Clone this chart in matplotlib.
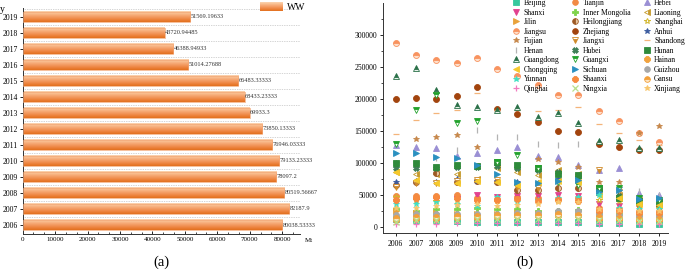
import numpy as np
import matplotlib
matplotlib.use("Agg")
import matplotlib.pyplot as plt
from matplotlib.ticker import MultipleLocator
from matplotlib.patches import Rectangle
from matplotlib.colors import to_rgb

plt.rcParams['font.family'] = ['Liberation Serif', 'DejaVu Serif']

# ---- panel (a) data ----
years = list(range(2006, 2020))
ww = [80038.53333, 82187.9, 80519.56667, 78097.2, 79133.23333, 76946.03333,
      73850.13333, 69933.3, 68433.23333, 66483.33333, 51014.27688, 46388.94933,
      43720.94485, 51569.19633]
ww_labels = ["80038.53333", "82187.9", "80519.56667", "78097.2", "79133.23333",
             "76946.03333", "73850.13333", "69933.3", "68433.23333", "66483.33333",
             "51014.27688", "46388.94933", "43720.94485", "51569.19633"]

# ---- panel (b) data (thousand) ----
provinces = ["Beijing", "Tianjin", "Hebei", "Shanxi", "Inner Mongolia", "Liaoning",
             "Jilin", "Heilongjiang", "Shanghai", "Jiangsu", "Zhejiang", "Anhui",
             "Fujian", "Jiangxi", "Shandong", "Henan", "Hubei", "Hunan",
             "Guangdong", "Guangxi", "Hainan", "Chongqing", "Sichuan", "Guizhou",
             "Yunnan", "Shaanxi", "Gansu", "Qinghai", "Ningxia", "Xinjiang"]
beijing = [12, 10, 10, 9, 8, 8, 8, 8, 8, 7, 6, 6, 5, 5]
tianjin = [48, 48, 48, 49, 45, 44, 47, 45, 44, 45, 30, 28, 25, 25]
hebei = [128, 124, 122.5, 110, 114.7, 120, 124, 111, 109, 96, 88, 91, 52, 50]
shanxi = [38, 40, 42, 43, 50, 46, 48, 48, 50, 48, 35, 32, 30, 28]
inner_mongolia = [28, 25, 28, 28, 30, 28, 28, 25, 25, 26, 22, 20, 18, 18]
liaoning = [86, 82, 83, 82, 75, 91, 86, 81, 88, 82, 57, 50, 42, 40]
jilin = [24, 22, 22, 20, 20, 20, 22, 20, 20, 20, 18, 15, 14, 14]
heilongjiang = [65, 70, 84, 70, 72, 70, 58, 57, 60, 60, 57, 45, 35, 33]
shanghai = [47, 42, 40, 42, 40, 40, 43, 42, 40, 40, 42, 40, 32, 30]
jiangsu = [287, 269, 260, 256, 264, 246, 235, 222, 205, 206, 180, 165, 147, 133]
zhejiang = [199.5, 201.6, 199.5, 204, 218, 184, 176, 164, 150, 147.5, 130, 124, 120, 120]
anhui = [70, 72, 70, 74, 72, 72, 70, 68, 75, 72, 55, 60, 44, 42]
fujian = [100, 137, 140.6, 143, 125, 100, 92, 106, 101.6, 93, 70, 70, 146, 157]
jiangxi = [62.5, 68, 68, 72, 73, 73, 62, 60, 70, 68, 88.6, 55, 40, 38]
shandong = [145, 167, 177, 182, 209, 183, 182, 181, 183, 187, 160, 146, 135, 128]
henan = [95, 100, 108, 120, 151, 140, 140, 130, 128, 130, 62, 58, 56, 50]
hubei = [92, 91, 92, 93, 94, 95, 92, 88, 85, 78, 55, 48, 38, 35]
hunan = [99, 99, 94, 96, 95, 101, 96, 91, 83, 81, 60, 45, 40, 38]
guangdong = [236, 247.5, 213.6, 190, 187.5, 182, 187.5, 172, 178, 162, 134, 135.5, 123, 123]
guangxi = [130, 183, 206, 161.5, 165.6, 101.6, 112, 91, 70, 65, 60, 60, 45, 42]
hainan = [10, 12, 12, 14, 14, 15, 16, 16, 16, 16, 12, 12, 10, 10]
chongqing = [85, 73, 69, 68, 72, 70, 65, 70, 72, 70, 50, 45, 35, 34]
sichuan = [115.6, 114.7, 109, 108, 96, 83, 70, 68, 72, 73, 55, 57, 44, 45]
guizhou = [18, 20, 20, 20, 20, 20, 22, 22, 24, 24, 20, 18, 16, 16]
yunnan = [35, 36, 38, 35, 32, 46, 38, 42, 45, 46, 50, 30, 28, 28]
shaanxi = [42, 45, 46, 45, 42, 42, 43, 40, 42, 40, 25, 24, 22, 22]
gansu = [14, 15, 15, 16, 16, 18, 18, 18, 20, 18, 15, 14, 12, 12]
qinghai = [5, 5, 5, 6, 6, 6, 6, 6, 6, 6, 5, 5, 5, 5]
ningxia = [8, 10, 10, 10, 12, 12, 12, 12, 12, 12, 10, 10, 9, 9]
xinjiang = [30, 30, 32, 34, 35, 33, 34, 36, 38, 38, 28, 26, 24, 24]

series = [beijing, tianjin, hebei, shanxi, inner_mongolia, liaoning, jilin,
          heilongjiang, shanghai, jiangsu, zhejiang, anhui, fujian, jiangxi,
          shandong, henan, hubei, hunan, guangdong, guangxi, hainan, chongqing,
          sichuan, guizhou, yunnan, shaanxi, gansu, qinghai, ningxia, xinjiang]

# marker, colour, fillstyle, alt colour
styles = [
    ('s', '#36c89e', 'full', None), ('o', '#f28a44', 'full', None),
    ('^', '#9a8fd4', 'full', None), ('v', '#e2418f', 'full', None),
    ('P', '#7ed34a', 'full', None), ('<', '#c59a2c', 'right', '#ffffff'),
    ('>', '#e9a23a', 'full', None), ('o', '#9e5a25', 'left', '#e8c7a0'),
    ('*', '#d2b72e', 'none', None), ('o', '#f8935f', 'top', '#fde0cc'),
    ('o', '#a2440e', 'full', None), ('*', '#3a5a9e', 'full', None),
    ('*', '#c6874a', 'full', None), ('v', '#cf8a2a', 'bottom', '#ffffff'),
    ('_', '#f4b47a', 'full', None), ('|', '#b3b3b3', 'full', None),
    ('X', '#3c7d55', 'full', None), ('s', '#2f8a3b', 'full', None),
    ('^', '#2a7048', 'top', '#e6f2ea'), ('v', '#22a22c', 'top', '#ffffff'),
    ('8', '#f1a33f', 'full', None), ('<', '#f6c92c', 'full', None),
    ('>', '#2a90c0', 'full', None), ('o', '#a8a8a8', 'full', None),
    ('*', '#3ee0c2', 'full', None), ('8', '#f78a3e', 'full', None),
    ('o', '#f2a03a', 'top', '#fde6c4'), ('+', '#f27bc0', 'full', None),
    ('x', '#b8e08a', 'full', None), ('*', '#f8c66c', 'full', None),
]

fig = plt.figure(figsize=(6.85, 2.7), dpi=100)

# ================= panel (a) =================
ax1 = fig.add_axes([0.0331, 0.1322, 0.4049, 0.8382])
idx = np.arange(len(years))
h = 0.64
grad = ['#fbd3b1', '#f9bf91', '#f6a874', '#f29458', '#ec8139', '#e2701f']
gcol = np.array([to_rgb(c) for c in grad])
gimg = np.array([np.interp(np.linspace(0, 5, 40), np.arange(6), gcol[:, k]) for k in range(3)]).T
gimg = gimg[:, None, :]
for i, v in enumerate(ww):
    ax1.imshow(gimg, extent=[0, v, i - h / 2, i + h / 2], aspect='auto',
               origin='upper', zorder=2, interpolation='bilinear')
    ax1.add_patch(Rectangle((0, i - h / 2), v, h, fill=False, ec='#f3a675',
                            lw=0.5, zorder=3))
    ax1.text(v + 150, i, ww_labels[i], fontsize=4.6, va='center', ha='left',
             color='#333333', zorder=4)
for i in range(len(years)):
    ax1.axhline(i + 0.5, color='#aaaaaa', lw=0.5, ls=(0, (1, 1.5)), zorder=1)
ax1.set_xlim(0, 85500)
ax1.set_ylim(-0.58, 13.55)
ax1.set_yticks(idx)
ax1.set_yticklabels([str(y) for y in years])
ax1.xaxis.set_minor_locator(MultipleLocator(10000 / 3))
ax1.set_xticks([0, 10000, 20000, 30000, 40000, 50000, 60000, 70000, 80000])
ax1.tick_params(axis='x', which='major', labelsize=5, length=2.5, width=0.6,
                direction='in', pad=2)
ax1.tick_params(axis='x', which='minor', length=1.5, width=0.5, direction='in')
ax1.tick_params(axis='y', labelsize=5.5, length=2, width=0.6, pad=1.5)
for s in ['top', 'right']:
    ax1.spines[s].set_visible(False)
for s in ['left', 'bottom']:
    ax1.spines[s].set_linewidth(0.7)
    ax1.spines[s].set_color('#333333')
fig.text(305 / 685, 1 - 240 / 270, 'Mt', fontsize=5, ha='left', va='center')
fig.text(2 / 685, 1 - 9 / 270, 'y', fontsize=7, ha='center', va='center')
fig.text(161 / 685, 1 - 262 / 270, '(a)', fontsize=10.5, ha='center', va='center')

# legend patch "WW"
lax = fig.add_axes([260 / 685, 1 - 11 / 270, 23 / 685, 9 / 270])
lax.imshow(gimg, aspect='auto', extent=[0, 1, 0, 1], interpolation='bilinear')
lax.set_axis_off()
fig.text(287 / 685, 1 - 7 / 270, 'WW', fontsize=7, ha='left', va='center')

# ================= panel (b) =================
ax2 = fig.add_axes([0.5596, 0.1359, 0.4160, 0.8530])
handles = []
for name, vals, (mk, col, fs, alt) in zip(provinces, series, styles):
    v = np.array(vals) * 1000
    kw = dict(linestyle='none', marker=mk, markersize=4.3, color=col,
              markeredgewidth=0.6, label=name)
    if fs == 'none':
        kw.update(markerfacecolor='none', markeredgecolor=col, markeredgewidth=0.7)
    elif fs != 'full':
        kw.update(fillstyle=fs, markerfacecoloralt=alt, markeredgecolor=col)
    else:
        kw.update(markeredgecolor=col)
    if mk in ['+', 'x', '|', '_']:
        kw['markeredgewidth'] = 0.9
    ln, = ax2.plot(years, v, **kw)
    handles.append(ln)

ax2.set_xlim(2005.39, 2019.44)
ax2.set_ylim(-10300, 349500)
ax2.set_xticks(years)
ax2.yaxis.set_minor_locator(MultipleLocator(25000))
ax2.set_yticks([0, 50000, 100000, 150000, 200000, 250000, 300000])
ax2.tick_params(axis='both', which='major', labelsize=5.5, length=2.5, width=0.6, pad=2)
ax2.tick_params(axis='y', which='minor', length=1.5, width=0.5)
for s in ['top', 'right']:
    ax2.spines[s].set_visible(False)
for s in ['left', 'bottom']:
    ax2.spines[s].set_linewidth(0.7)
    ax2.spines[s].set_color('#333333')

order = [handles[i::3] for i in range(3)]
ordered = order[0] + order[1] + order[2]
leg = fig.legend(handles=ordered, labels=[hh.get_label() for hh in ordered],
                 ncol=3, loc='upper left', bbox_to_anchor=(512 / 685, 1 + 1 / 270),
                 frameon=False, fontsize=5.5, handlelength=1.0, handletextpad=0.5,
                 columnspacing=1.6, labelspacing=0.2, borderaxespad=0, borderpad=0,
                 markerscale=0.95)
fig.text(525 / 685, 1 - 262 / 270, '(b)', fontsize=10.5, ha='center', va='center')

fig.savefig('out.png', dpi=100)
